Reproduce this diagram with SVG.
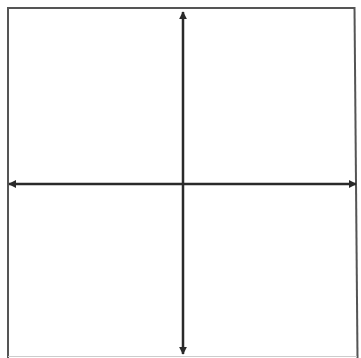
<svg xmlns="http://www.w3.org/2000/svg" width="361" height="358" viewBox="0 0 361 358">
<defs>
<marker id="ah" viewBox="0 0 10 10" refX="9" refY="5" markerWidth="3.2" markerHeight="3.2" orient="auto-start-reverse" markerUnits="strokeWidth">
<path d="M0,0 L10,5 L0,10 z" fill="#2a2a2a"/>
</marker>
<style>
.edge{stroke:#555;stroke-width:2;fill:none}
.faint{stroke:#ccc;stroke-width:1;fill:none}
.axis{stroke:#2a2a2a;stroke-width:2.5;fill:none}
</style>
</defs>
<rect x="0" y="0" width="361" height="358" fill="#fff"/>
<g id="frame">
<line class="edge" x1="7" y1="8" x2="355" y2="8"/>
<line class="edge" x1="8" y1="7" x2="8" y2="358"/>
<line class="edge" x1="354.5" y1="7" x2="357.5" y2="358"/>
<line class="faint" x1="8" y1="356.5" x2="357" y2="356.5"/>
</g>
<g id="connectors">
<line class="axis" x1="183" y1="12" x2="183" y2="354" marker-start="url(#ah)" marker-end="url(#ah)"/>
<line class="axis" x1="9" y1="184" x2="356" y2="184" marker-start="url(#ah)" marker-end="url(#ah)"/>
</g>
</svg>
